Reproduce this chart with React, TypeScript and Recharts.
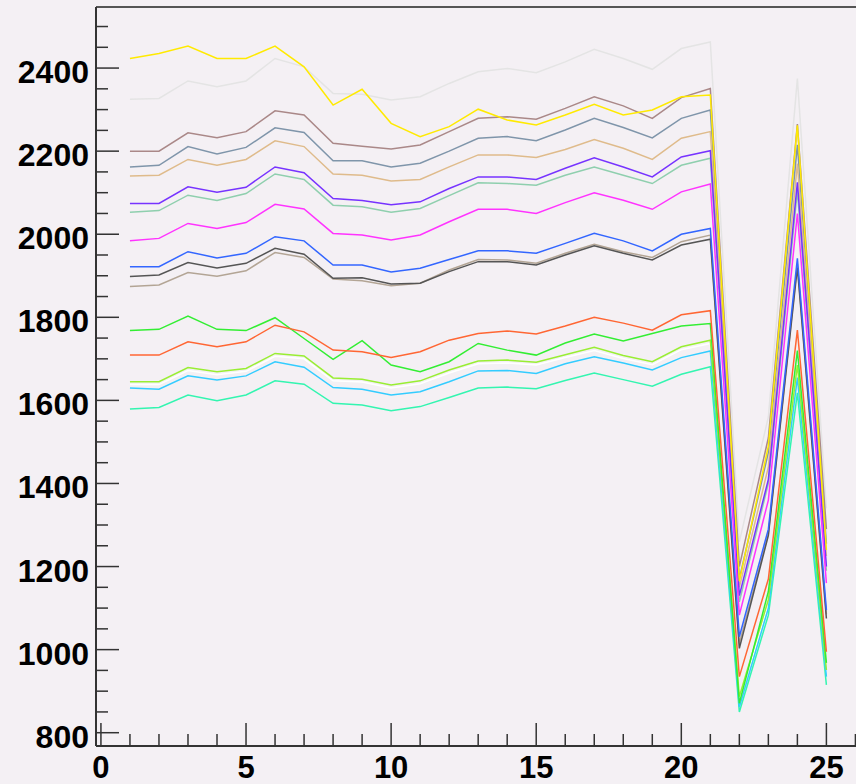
import { Line, LineChart, ReferenceLine, XAxis, YAxis } from 'recharts';

const xs = [1, 2, 3, 4, 5, 6, 7, 8, 9, 10, 11, 12, 13, 14, 15, 16, 17, 18, 19, 20, 21, 22, 23, 24, 25];

const lightGrey = [2325, 2327, 2369, 2355, 2369, 2423, 2403, 2339, 2337, 2323, 2331, 2363, 2391, 2399, 2389, 2415, 2445, 2423, 2397, 2447, 2463, 1260, 1560, 2375, 1340];
const yellow = [2423, 2435, 2453, 2423, 2423, 2453, 2403, 2311, 2349, 2267, 2235, 2259, 2301, 2275, 2263, 2287, 2313, 2287, 2299, 2331, 2335, 1165, 1490, 2262, 1240];
const mauve = [2200, 2200, 2244, 2232, 2247, 2297, 2287, 2219, 2212, 2205, 2215, 2247, 2279, 2283, 2277, 2303, 2331, 2309, 2279, 2329, 2351, 1200, 1510, 2265, 1290];
const slate = [2162, 2166, 2211, 2193, 2209, 2256, 2245, 2177, 2177, 2162, 2171, 2200, 2231, 2235, 2225, 2251, 2279, 2257, 2232, 2279, 2299, 1170, 1475, 2215, 1255];
const tan = [2140, 2142, 2180, 2166, 2180, 2225, 2211, 2145, 2142, 2128, 2132, 2162, 2191, 2191, 2185, 2204, 2228, 2207, 2180, 2231, 2247, 1150, 1440, 2170, 1225];
const purple = [2074, 2074, 2114, 2101, 2113, 2162, 2148, 2086, 2081, 2071, 2078, 2110, 2138, 2138, 2132, 2159, 2184, 2162, 2138, 2186, 2201, 1130, 1410, 2125, 1200];
const seaGreen = [2053, 2057, 2094, 2081, 2098, 2145, 2132, 2070, 2066, 2053, 2062, 2093, 2124, 2122, 2118, 2142, 2162, 2142, 2122, 2166, 2183, 1115, 1400, 2105, 1190];
const magenta = [1984, 1990, 2026, 2014, 2028, 2072, 2061, 2002, 1998, 1986, 1998, 2030, 2060, 2060, 2050, 2076, 2100, 2082, 2060, 2102, 2121, 1083, 1360, 2050, 1160];
const blue = [1922, 1922, 1958, 1943, 1954, 1994, 1984, 1926, 1926, 1909, 1918, 1939, 1960, 1960, 1954, 1978, 2002, 1984, 1960, 2000, 2014, 1031, 1290, 1942, 1095];
const darkGrey = [1898, 1902, 1932, 1919, 1930, 1966, 1952, 1894, 1895, 1880, 1882, 1910, 1934, 1934, 1926, 1950, 1972, 1954, 1938, 1974, 1988, 1003, 1275, 1920, 1075];
const greyTan = [1874, 1878, 1908, 1899, 1912, 1956, 1944, 1892, 1888, 1876, 1882, 1914, 1939, 1938, 1930, 1954, 1976, 1958, 1944, 1982, 1998, 1015, 1280, 1928, 1085];
const orange = [1709, 1709, 1741, 1729, 1741, 1781, 1765, 1721, 1717, 1703, 1717, 1745, 1761, 1767, 1760, 1779, 1800, 1786, 1769, 1806, 1816, 935, 1170, 1769, 995];
const green = [1768, 1771, 1803, 1771, 1768, 1799, 1749, 1699, 1744, 1685, 1669, 1693, 1737, 1721, 1709, 1738, 1760, 1743, 1761, 1779, 1785, 871, 1140, 1720, 968];
const lime = [1645, 1645, 1679, 1669, 1677, 1713, 1707, 1654, 1651, 1637, 1647, 1673, 1695, 1697, 1692, 1710, 1728, 1708, 1693, 1729, 1745, 887, 1120, 1685, 951];
const white = [1638, 1638, 1672, 1662, 1670, 1706, 1700, 1647, 1644, 1630, 1640, 1666, 1688, 1690, 1685, 1703, 1720, 1701, 1686, 1722, 1737, 880, 1112, 1678, 945];
const cyan = [1630, 1627, 1659, 1649, 1659, 1693, 1680, 1631, 1627, 1613, 1621, 1645, 1671, 1672, 1665, 1688, 1705, 1690, 1673, 1703, 1719, 862, 1100, 1655, 935];
const aqua = [1579, 1583, 1613, 1599, 1613, 1647, 1639, 1593, 1589, 1575, 1585, 1607, 1630, 1632, 1628, 1648, 1666, 1650, 1634, 1663, 1681, 850, 1083, 1618, 915];

const xTickLabels = [0, 5, 10, 15, 20, 25];
const yTickLabels = [800, 1000, 1200, 1400, 1600, 1800, 2000, 2200, 2400];

const series = [
    { key: 'lightGrey', values: lightGrey, color: '#e4e4e4' },
    { key: 'mauve', values: mauve, color: '#aa8888' },
    { key: 'slate', values: slate, color: '#7f95aa' },
    { key: 'tan', values: tan, color: '#dfbb8b' },
    { key: 'seaGreen', values: seaGreen, color: '#8fcfae' },
    { key: 'purple', values: purple, color: '#7733ff' },
    { key: 'magenta', values: magenta, color: '#ff33ff' },
    { key: 'greyTan', values: greyTan, color: '#b3a595' },
    { key: 'darkGrey', values: darkGrey, color: '#555555' },
    { key: 'blue', values: blue, color: '#3366ff' },
    { key: 'white', values: white, color: '#ffffff' },
    { key: 'aqua', values: aqua, color: '#33f5b0' },
    { key: 'cyan', values: cyan, color: '#33ccff' },
    { key: 'lime', values: lime, color: '#99ee33' },
    { key: 'green', values: green, color: '#33ee33' },
    { key: 'orange', values: orange, color: '#ff6633' },
    { key: 'yellow', values: yellow, color: '#ffea00' },
];

const data = xs.map((x, i) => {
    const row: Record<string, number> = { x };
    series.forEach((s) => {
        row[s.key] = s.values[i];
    });
    return row;
});

const X_MIN = -0.17;
const X_MAX = 26.02;
const Y_MIN = 768;
const Y_MAX = 2547;

const xTicks: number[] = [];
for (let v = 0; v <= 26; v++) xTicks.push(v);
const yTicks: number[] = [];
for (let v = 800; v <= 2500; v += 50) yTicks.push(v);

const font = '"Liberation Sans", Arial, Helvetica, sans-serif';
const axisColor = '#333333';

const XTick = (props: any) => {
    const { x, y, payload } = props;
    const major = xTickLabels.includes(payload.value);
    return (
        <g>
            <line x1={x} x2={x} y1={y} y2={y - (major ? 23 : 12)} stroke={axisColor} strokeWidth={1.5} />
            {major && (
                <text x={x} y={y + 32} textAnchor="middle" fontFamily={font} fontWeight="bold" fontSize={31} fill="#000">
                    {payload.value}
                </text>
            )}
        </g>
    );
};

const YTick = (props: any) => {
    const { x, y, payload } = props;
    const major = yTickLabels.includes(payload.value);
    return (
        <g>
            <line x1={x} x2={x + (major ? 23 : 12)} y1={y} y2={y} stroke={axisColor} strokeWidth={1.5} />
            {major && (
                <text x={x - 7} y={y + 15} textAnchor="end" fontFamily={font} fontWeight="bold" fontSize={32} fill="#000">
                    {payload.value}
                </text>
            )}
        </g>
    );
};

export default function App() {
    return (
        <div style={{ position: 'absolute', left: 0, top: 0, width: 856, height: 784, background: '#f4f0f4' }}>
            <LineChart width={856} height={784} data={data} margin={{ top: 7, right: 0, bottom: 0, left: 0 }}>
                <XAxis
                    dataKey="x"
                    type="number"
                    domain={[X_MIN, X_MAX]}
                    allowDataOverflow
                    ticks={xTicks}
                    interval={0}
                    height={38}
                    tickSize={0}
                    tickMargin={0}
                    tickLine={false}
                    tick={<XTick />}
                    axisLine={{ stroke: axisColor, strokeWidth: 2 }}
                />
                <YAxis
                    type="number"
                    domain={[Y_MIN, Y_MAX]}
                    allowDataOverflow
                    ticks={yTicks}
                    interval={0}
                    width={96}
                    tickSize={0}
                    tickMargin={0}
                    tickLine={false}
                    tick={<YTick />}
                    axisLine={{ stroke: axisColor, strokeWidth: 2 }}
                />
                <ReferenceLine y={Y_MAX} stroke="#555555" strokeWidth={2} />
                {series.map((s) => (
                    <Line
                        key={s.key}
                        type="linear"
                        dataKey={s.key}
                        stroke={s.color}
                        strokeWidth={1.5}
                        dot={false}
                        activeDot={false}
                        isAnimationActive={false}
                    />
                ))}
            </LineChart>
        </div>
    );
}
